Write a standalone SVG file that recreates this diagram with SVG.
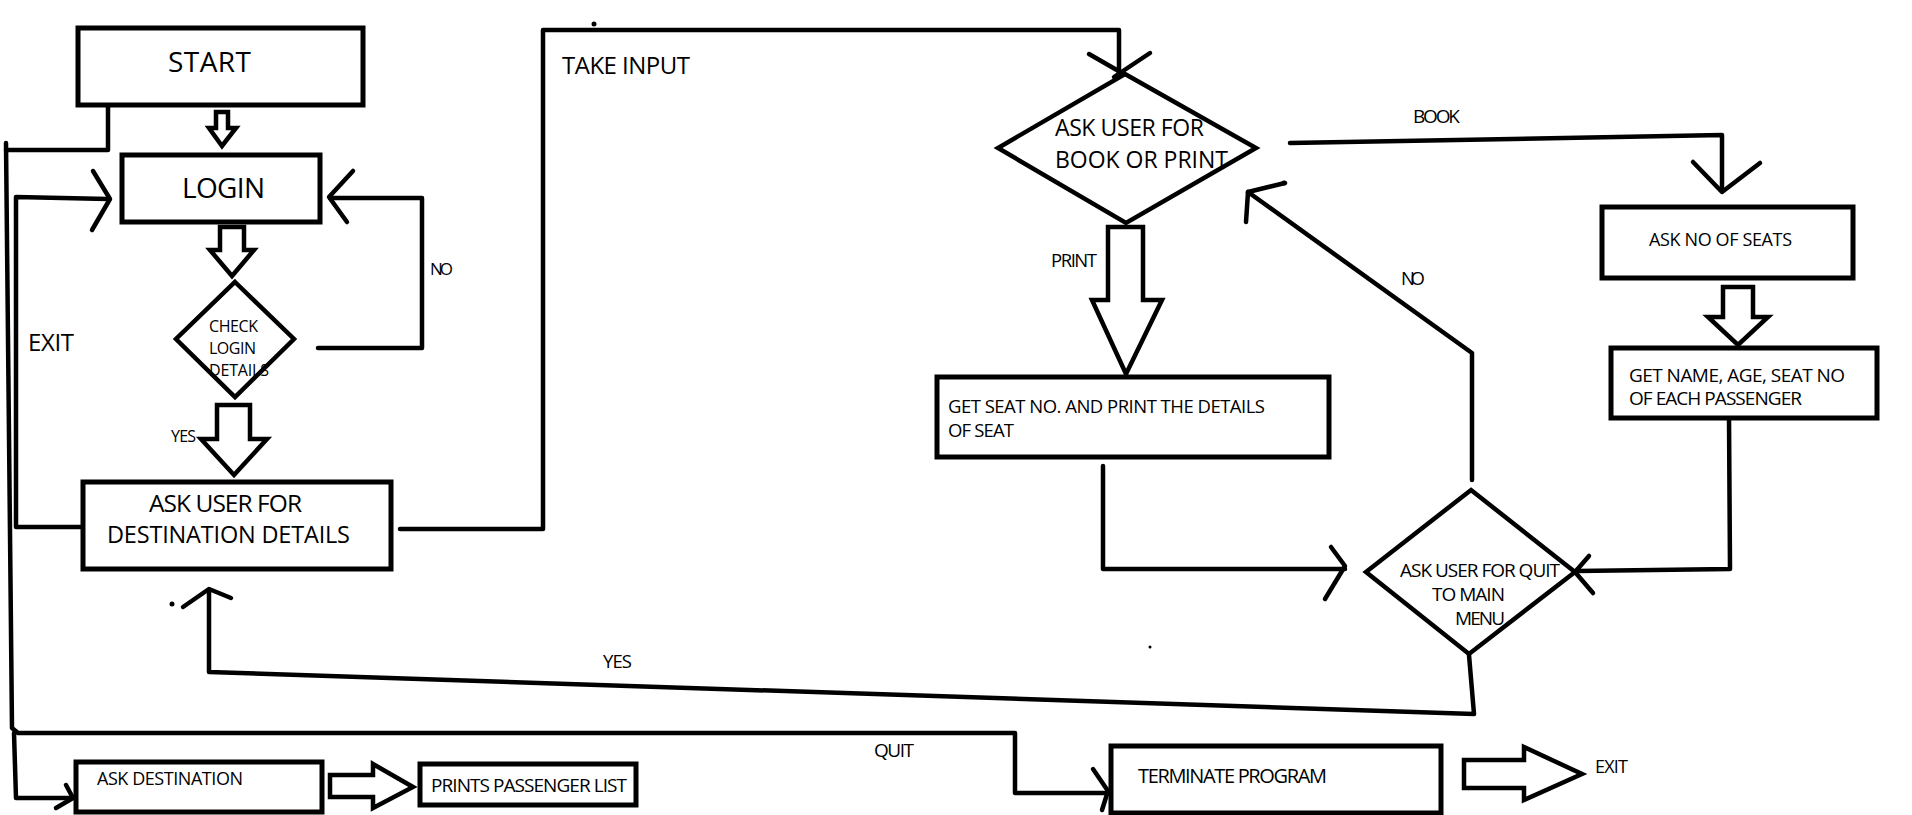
<svg xmlns="http://www.w3.org/2000/svg" width="1912" height="815" viewBox="0 0 1912 815">
<style>
.box{fill:#fff;stroke:#000;stroke-width:5}
.dia{fill:#fff;stroke:#000;stroke-width:4.5;stroke-linejoin:miter}
.blk{fill:#fff;stroke:#000;stroke-width:4.5;stroke-linejoin:miter}
.ln{fill:none;stroke:#000;stroke-width:4.5;stroke-linecap:round;stroke-linejoin:round}
text{font-family:"Open Sans","Liberation Sans",sans-serif;fill:#000}
</style>
<rect width="1912" height="815" fill="#fff"/>

<g id="connectors">
  <!-- START to left rail -->
  <polyline class="ln" points="108,105 108,150 6,150"/>
  <!-- left rail A (EXIT) -->
  <polyline class="ln" points="6,143 12,728 18,733 1015,733 1015,793 1106,793"/>
  <polyline class="ln" points="1093,769 1108,791 1102,810"/>
  <polyline class="ln" points="14,733 16,798 71,798"/>
  <polyline class="ln" points="66,785 73,798 56,808"/>
  <!-- left rail B back to LOGIN -->
  <polyline class="ln" points="82,527 16,527 16,197 108,199"/>
  <polyline class="ln" points="93,171 110,199 92,230"/>
  <!-- NO loop from CHECK to LOGIN -->
  <polyline class="ln" points="318,348 422,348 422,198 330,198"/>
  <polyline class="ln" points="353,171 329,197 347,222"/>
  <!-- TAKE INPUT path -->
  <polyline class="ln" points="400,529 543,529 543,30 1119,30 1119,73"/>
  <line class="ln" x1="1089" y1="54" x2="1129" y2="77"/>
  <line class="ln" x1="1150" y1="53" x2="1114" y2="77"/>
  <circle cx="594" cy="24" r="2.5" fill="#000"/>
  <!-- BOOK path -->
  <polyline class="ln" points="1290,143 1722,135 1722,191"/>
  <polyline class="ln" points="1693,162 1722,192 1760,163"/>
  <circle cx="1284" cy="183" r="2.5" fill="#000"/>
  <!-- NO from quit diamond back to book/print -->
  <polyline class="ln" points="1472,480 1472,353 1248,192"/>
  <polyline class="ln" points="1246,222 1248,192 1285,183"/>
  <!-- GET SEAT to quit diamond -->
  <polyline class="ln" points="1103,466 1103,569 1345,569"/>
  <polyline class="ln" points="1331,547 1345,566 1325,599"/>
  <!-- GET NAME to quit diamond -->
  <polyline class="ln" points="1729,418 1730,569 1577,571"/>
  <polyline class="ln" points="1589,556 1575,572 1593,593"/>
  <!-- YES back to destination -->
  <polyline class="ln" points="1469,655 1474,714 209,672 209,590"/>
  <polyline class="ln" points="183,607 209,589 231,598"/>
  <circle cx="172" cy="604" r="2.5" fill="#000"/>
  <circle cx="1150" cy="647" r="1.5" fill="#000"/>
  <!-- block arrows -->
  <polygon class="blk" points="216,112 228,112 228,128 236,128 222,146 209,128 216,128"/>
  <polygon class="blk" points="220,227 244,227 244,250 254,250 232,276 210,250 220,250"/>
  <polygon class="blk" points="217,405 250,405 250,439 267,439 234,475 201,439 217,439"/>
  <polygon class="blk" points="1108,227 1143,227 1143,300 1162,300 1126,374 1092,300 1108,300"/>
  <polygon class="blk" points="1723,287 1753,287 1753,317 1768,317 1738,345 1708,317 1723,317"/>
  <polygon class="blk" points="330,775 373,775 373,764 413,787 373,808 373,797 330,797"/>
  <polygon class="blk" points="1464,760 1524,760 1524,747 1582,774 1524,800 1524,788 1464,788"/>
  <!-- connector labels -->
  <text x="430" y="275" font-size="17" textLength="23">NO</text>
  <text x="171" y="442" font-size="16" textLength="25">YES</text>
  <text x="28" y="351" font-size="24" textLength="46">EXIT</text>
  <text x="562" y="74" font-size="24" textLength="128">TAKE INPUT</text>
  <text x="1413" y="123" font-size="19" textLength="47">BOOK</text>
  <text x="1051" y="267" font-size="18.5" textLength="46">PRINT</text>
  <text x="1401" y="285" font-size="18.5" textLength="24">NO</text>
  <text x="603" y="668" font-size="18.5" textLength="29">YES</text>
  <text x="874" y="757" font-size="19" textLength="40">QUIT</text>
  <text x="1595" y="773" font-size="18" textLength="33">EXIT</text>
</g>

<g id="start">
  <rect class="box" x="78" y="28" width="285" height="77"/>
  <text x="168" y="72" font-size="28" textLength="83">START</text>
</g>
<g id="login">
  <rect class="box" x="122" y="155" width="198" height="67"/>
  <text x="182" y="198" font-size="28" textLength="83">LOGIN</text>
</g>
<g id="check">
  <polygon class="dia" points="235,282 294,339 235,397 176,339"/>
  <text x="209" y="332" font-size="16" textLength="49">CHECK</text>
  <text x="209" y="354" font-size="16" textLength="47">LOGIN</text>
  <text x="209" y="376" font-size="16" textLength="60">DETAILS</text>
</g>
<g id="ask-dest-details">
  <rect class="box" x="83" y="482" width="308" height="87"/>
  <text x="149" y="512" font-size="24.5" textLength="153">ASK USER FOR</text>
  <text x="107" y="543" font-size="23.5" textLength="243">DESTINATION DETAILS</text>
</g>
<g id="book-or-print">
  <polygon class="dia" points="1125,74 1256,148 1126,223 998,148"/>
  <text x="1055" y="136" font-size="23" textLength="149">ASK USER FOR</text>
  <text x="1055" y="168" font-size="23" textLength="173">BOOK OR PRINT</text>
</g>
<g id="ask-seats">
  <rect class="box" x="1602" y="207" width="251" height="71"/>
  <text x="1649" y="246" font-size="18" textLength="143">ASK NO OF SEATS</text>
</g>
<g id="get-name">
  <rect class="box" x="1611" y="348" width="266" height="70"/>
  <text x="1629" y="382" font-size="19" textLength="216">GET NAME, AGE, SEAT NO</text>
  <text x="1629" y="405" font-size="19" textLength="173">OF EACH PASSENGER</text>
</g>
<g id="get-seat">
  <rect class="box" x="937" y="377" width="392" height="80"/>
  <text x="948" y="413" font-size="18.5" textLength="317">GET SEAT NO. AND PRINT THE DETAILS</text>
  <text x="948" y="437" font-size="18.5" textLength="66">OF SEAT</text>
</g>
<g id="quit-menu">
  <polygon class="dia" points="1471,490 1575,572 1469,654 1366,572"/>
  <text x="1400" y="577" font-size="19" textLength="160">ASK USER FOR QUIT</text>
  <text x="1432" y="601" font-size="19" textLength="73">TO MAIN</text>
  <text x="1455" y="625" font-size="19" textLength="50">MENU</text>
</g>
<g id="ask-destination">
  <rect class="box" x="76" y="762" width="246" height="50"/>
  <text x="97" y="785" font-size="18" textLength="146">ASK DESTINATION</text>
</g>
<g id="prints-list">
  <rect class="box" x="420" y="764" width="216" height="41"/>
  <text x="431" y="792" font-size="19" textLength="196">PRINTS PASSENGER LIST</text>
</g>
<g id="terminate">
  <rect class="box" x="1111" y="746" width="330" height="67"/>
  <text x="1138" y="783" font-size="20" textLength="189">TERMINATE PROGRAM</text>
</g>
</svg>
